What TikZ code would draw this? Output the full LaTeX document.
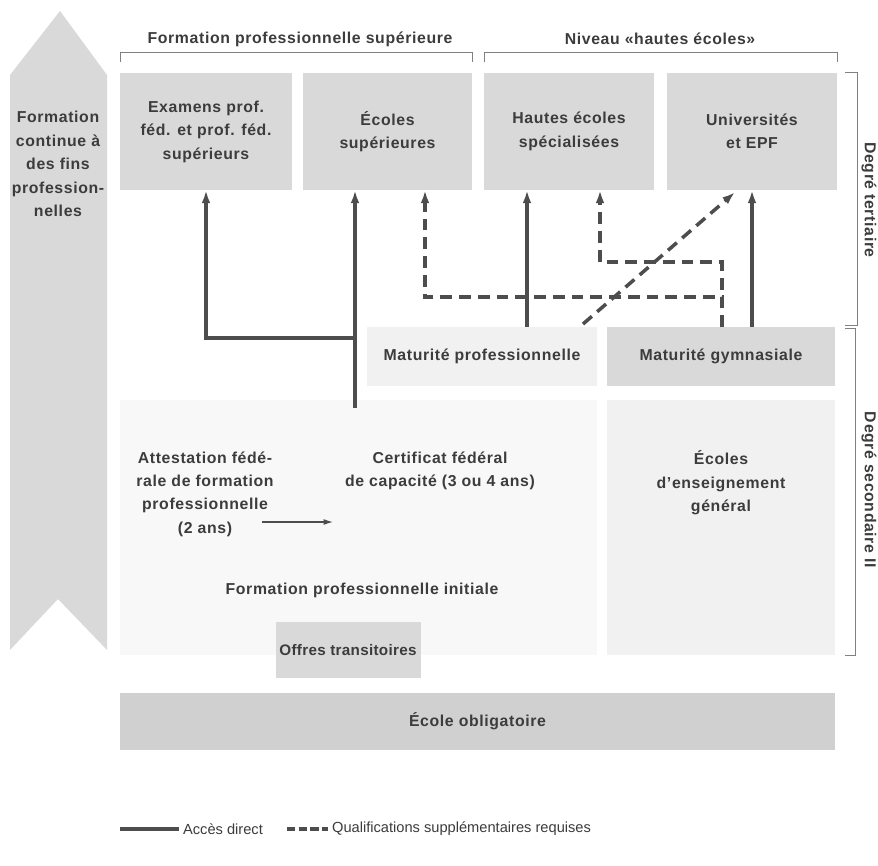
\documentclass[tikz,border=0pt]{standalone}
\usepackage{fontspec}
\setmainfont{Liberation Sans}
\usepackage{tikz}
\usetikzlibrary{arrows.meta, positioning}

\definecolor{boxgray}{HTML}{D9D9D9}
\definecolor{darkbox}{HTML}{D0D0D0}
\definecolor{palebox}{HTML}{F1F1F1}
\definecolor{faintbox}{HTML}{F8F8F8}
\definecolor{inkgray}{HTML}{3C3C3C}
\definecolor{linegray}{HTML}{4D4D4D}

\begin{document}
\begin{tikzpicture}[x=0.03cm, y=-0.03cm,
  font=\fontsize{13.5}{20}\selectfont\bfseries\addfontfeature{LetterSpace=4}, text=inkgray,
  box/.style={fill=boxgray, minimum height=3.51cm, align=center, inner sep=0pt},
  tip/.style={-{Latex[length=11pt, width=7.5pt]}},
  direct/.style={draw=linegray, line width=3pt, tip},
  extra/.style={draw=linegray, line width=3pt, dash pattern=on 10pt off 6pt, tip},
  bracket/.style={draw=gray, line width=0.6pt},
  legend/.style={anchor=west, font=\fontsize{12.5}{15}\selectfont}]

\useasboundingbox (0,0) rectangle (878,865);

% arrow of continuing education
\fill [boxgray] (10,75) -- (60,11) -- (107,75) -- (107,650) -- (58,599) -- (10,650) -- cycle;
\node [align=center, inner sep=0pt] (fcont) at (58,164) {Formation\\continue à\\des fins\\profession-\\nelles};

% background areas
\fill [faintbox] (120,400) rectangle (597,655);
\node [fill=palebox, minimum width=6.9cm, minimum height=1.77cm               ] (mp)   at (482,356.5) {Maturité professionnelle};
\node [fill=boxgray, minimum width=6.84cm, minimum height=1.77cm              ] (mg)   at (721,356.5) {Maturité gymnasiale};
\node [fill=palebox, minimum width=6.84cm, minimum height=7.65cm, align=center] (eeg)  at (721,527.5) {};
\node [align=center                                                           ] (eegt) at (721,483)   {Écoles\\d'enseignement\\général};
\node [align=center                                                           ] (afp)  at (205,494)   {Attestation fédé-\\rale de formation\\professionnelle\\(2 ans)};
\node [align=center                                                           ] (cfc)  at (440,471)   {Certificat fédéral\\de capacité (3 ou 4 ans)};
\node [                                                                       ] (fpi)  at (362,590)   {Formation professionnelle initiale};
\node [fill=boxgray, minimum width=4.35cm, minimum height=1.68cm, inner sep=0pt,
       font=\fontsize{13}{20}\selectfont\bfseries\addfontfeature{LetterSpace=2}] (ot) at (348,650) {Offres transitoires};
\node [fill=darkbox, minimum width=21.45cm, minimum height=1.71cm             ] (eo)   at (477.5,721.5) {École obligatoire};

% tertiary level
\node [box, minimum width=5.16cm] (exam) at (206,131.5) {Examens prof.\\féd. et prof. féd.\\supérieurs};
\node [box, minimum width=5.07cm] (es)   at (387.5,131.5) {Écoles\\supérieures};
\node [box, minimum width=5.1cm ] (hes)  at (569,131.5) {Hautes écoles\\spécialisées};
\node [box, minimum width=5.1cm ] (uni)  at (752,131.5) {Universités\\et EPF};

% brackets and level labels
\draw [bracket] (120,62) -- (120,52) -- (472,52) -- (472,62);
\draw [bracket] (484,62) -- (484,52) -- (837,52) -- (837,62);
\node (fps) at (300,39) {Formation professionnelle supérieure};
\node (nhe) at (660,39) {Niveau «hautes écoles»};
\draw [bracket] (845,72) -- (857,72) -- (857,325) -- (845,325);
\draw [bracket] (845,328) -- (855,328) -- (855,655) -- (845,655);
\node [rotate=-90] (tert) at (869,200) {Degré tertiaire};
\node [rotate=-90] (sec)  at (869,490) {Degré secondaire II};

% access paths
\coordinate (cfctop) at (355,408);
\coordinate (fork)   at (355,338);
\coordinate (mp1)    at (527,327);
\coordinate (mp2)    at (583,324);
\coordinate (mg1)    at (722,327);
\coordinate (mg2)    at (752,327);
\coordinate (d1)     at (425,297);
\coordinate (d2)     at (600,262);

\path [direct] (cfctop) -- (cfctop |- es.south);
\path [direct] (fork)   -| (exam.south);
\path [direct] (mp1)    -- (mp1 |- hes.south);
\path [direct] (mg2)    -- (uni.south);
\path [extra]  (mg1)    |- (d1) -- (d1 |- es.south);
\path [extra]  (mg1)    |- (d2) -- (d2 |- hes.south);
\path [extra]  (mp2)    -- ([xshift=-0.51cm, yshift=-0.06cm]uni.south);
\coordinate (afpend) at (262,522);
\path [draw=linegray, line width=1pt, -{Latex[length=8pt, width=5pt]}] (afpend) -- (333,522);

% legend
\node [legend] (lg1) at (179,829) {Accès direct};
\node [legend] (lg2) at (328,829) {Qualifications supplémentaires requises};
\coordinate (lg1start) at (120,829);
\coordinate (lg2start) at (287,829);
\draw [direct, -] (lg1start) -- (lg1.west);
\draw [extra, -, dash pattern=on 7pt off 3pt] (lg2start) -- (lg2.west);

\end{tikzpicture}
\end{document}
